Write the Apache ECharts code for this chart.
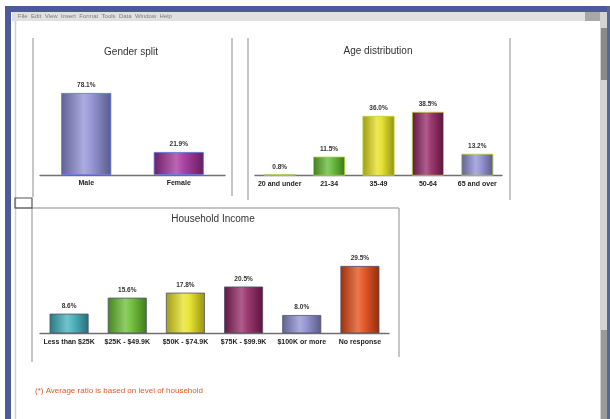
<!DOCTYPE html>
<html>
<head>
<meta charset="utf-8">
<script src="https://cdn.jsdelivr.net/npm/echarts@6/dist/echarts.min.js"></script>
<style>
html,body{margin:0;padding:0;background:#fff;}
#c{width:610px;height:419px;}
</style>
</head>
<body>
<div id="c"></div>
<script>
// ---- data ----
const genderCats = ['Male', 'Female'];
const genderVals = [78.1, 21.9];
const ageCats = ['20 and under', '21-34', '35-49', '50-64', '65 and over'];
const ageVals = [0.8, 11.5, 36.0, 38.5, 13.2];
const incomeCats = ['Less than $25K', '$25K - $49.9K', '$50K - $74.9K', '$75K - $99.9K', '$100K or more', 'No response'];
const incomeVals = [8.6, 15.6, 17.8, 20.5, 8.0, 29.5];
const titles = ['Gender split', 'Age distribution', 'Household Income'];
const note = '(*) Average ratio is based on level of household';

// ---- styles ----
const genderColors = ['#8a8ad4', '#9e2a96'];
const ageColors = ['#3aa8a8', '#5ab52a', '#e4de18', '#8e1f5e', '#8a8ad0'];
const incomeColors = ['#3aabb8', '#64bb2a', '#e6e01c', '#8e1f5e', '#8a8ad0', '#e2450e'];

function hex(c){c=c.replace('#','');return [parseInt(c.substr(0,2),16),parseInt(c.substr(2,2),16),parseInt(c.substr(4,2),16)];}
function mix(c, t, k){const a=hex(c);const b=t==='w'?[255,255,255]:[0,0,0];return 'rgb('+a.map((v,i)=>Math.round(v+(b[i]-v)*k)).join(',')+')';}
function grad(c){
  return new echarts.graphic.LinearGradient(0,0,1,0,[
    {offset:0,color:mix(c,'k',0.3)},
    {offset:0.45,color:mix(c,'w',0.28)},
    {offset:0.6,color:mix(c,'w',0.12)},
    {offset:1,color:mix(c,'k',0.35)}
  ]);
}
function barSeries(idx, vals, colors, width){
  return {
    type:'bar', xAxisIndex:idx, yAxisIndex:idx, barWidth:width,
    data: vals,
    itemStyle:{
      color: p => grad(colors[p.dataIndex]),
      borderColor: p => mix(colors[p.dataIndex],'k',0.5),
      borderWidth:0.8
    },
    label:{show:true, position:'top', distance:4, fontSize:6.5, fontWeight:'bold', color:'#333',
      fontFamily:'Liberation Sans', formatter: p => p.value.toFixed(1)+'%'}
  };
}
function xAx(idx, cats){
  return {type:'category', gridIndex:idx, data:cats,
    axisLine:{lineStyle:{color:'#707070', width:1.4}}, axisTick:{show:false},
    axisLabel:{fontSize:7, fontWeight:'bold', color:'#222', margin:5, interval:0, fontFamily:'Liberation Sans'}};
}
function yAx(idx, max){
  return {type:'value', gridIndex:idx, min:0, max:max, show:false, splitLine:{show:false}};
}

const line = (x1,y1,x2,y2,c,w) => ({type:'line', shape:{x1,y1,x2,y2}, style:{stroke:c||'#a0a0a0', lineWidth:w||1.2}, silent:true});
const txt = (x,y,t,size,color,align) => ({type:'text', x, y, style:{text:t, fontSize:size, fill:color, fontFamily:'Liberation Sans', align:align||'center', verticalAlign:'middle'}, silent:true});

const chart = echarts.init(document.getElementById('c'), null, {renderer:'canvas'});
chart.setOption({
  backgroundColor:'#fff',
  animation:false,
  grid:[
    {left:40, right:385, top:70, bottom:244},
    {left:255, right:108, top:92.7, bottom:243.3},
    {left:40, right:221, top:242, bottom:85.7}
  ],
  xAxis:[xAx(0,genderCats), xAx(1,ageCats), xAx(2,incomeCats)],
  yAxis:[yAx(0,100), yAx(1,50), yAx(2,40)],
  series:[
    barSeries(0, genderVals, genderColors, 50),
    barSeries(1, ageVals, ageColors, 32),
    barSeries(2, incomeVals, incomeColors, 39)
  ],
  graphic:[
    // window frame
    {type:'rect', shape:{x:5,y:6,width:605,height:6}, style:{fill:'#4a5a9c'}, silent:true},
    {type:'rect', shape:{x:5,y:6,width:6,height:413}, style:{fill:'#4a5a9c'}, silent:true},
    {type:'rect', shape:{x:607,y:6,width:3,height:413}, style:{fill:'#5a6690'}, silent:true},
    {type:'rect', shape:{x:12,y:12,width:588,height:9}, style:{fill:'#e0e0e0'}, silent:true},
    {type:'rect', shape:{x:600,y:12,width:7,height:407}, style:{fill:'#d4d4d4'}, silent:true},
    {type:'rect', shape:{x:601,y:28,width:6,height:52}, style:{fill:'#8a8a8a'}, silent:true},
    {type:'rect', shape:{x:601,y:330,width:6,height:89}, style:{fill:'#9a9a9a'}, silent:true},
    {type:'rect', shape:{x:585,y:12,width:15,height:9}, style:{fill:'#a8a8a8'}, silent:true},
    txt(18,16.5,'File  Edit  View  Insert  Format  Tools  Data  Window  Help',6,'#7a7a7a','left'),
    line(15.5,21,15.5,419,'#cfcfcf',1.5),
    // panel borders
    line(33,38,33,197),
    line(232,38,232,196),
    line(248,38,248,200),
    line(510,38,510,200),
    line(15,208,399,208,'#8a8a8a',1.2),
    line(399,208,399,357),
    line(32,208,32,362),
    {type:'rect', shape:{x:15,y:198,width:17,height:10}, style:{fill:'none', stroke:'#555', lineWidth:1.2}, silent:true},
    // titles
    txt(131,52,titles[0],10,'#333'),
    txt(378,51,titles[1],10,'#333'),
    txt(213,219,titles[2],10,'#333'),
    // note
    txt(35,391,note,8,'#e05a2a','left')
  ]
});
</script>
</body>
</html>
